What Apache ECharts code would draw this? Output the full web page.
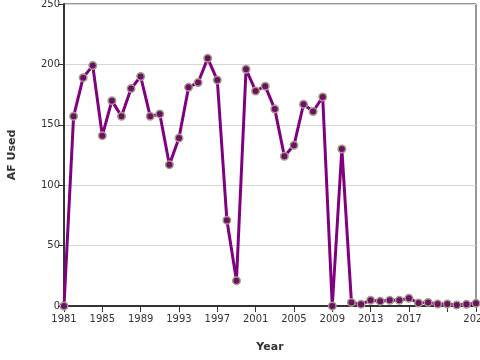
<!DOCTYPE html>
<html>
<head>
<meta charset="utf-8">
<script src="https://cdn.jsdelivr.net/npm/echarts@6/dist/echarts.min.js"></script>
<style>
  html, body { margin: 0; padding: 0; background: #fff; }
  #chart { width: 480px; height: 360px; }
</style>
</head>
<body>
<div id="chart"></div>
<script>
const years = []
for (let y = 1981; y <= 2024; y++) years.push(String(y))

const afUsed = [
  0, 157, 189, 199, 141, 170, 157, 180, 190, 157,
  159, 117, 139, 181, 185, 205, 187, 71, 21, 196,
  178, 182, 163, 124, 133, 167, 161, 173, 0, 130,
  3, 1.5, 4.7, 4, 4.7, 4.7, 6.4, 2.5, 3, 1.7,
  1.7, 0.8, 1.4, 2.2
]

const yTicks = [0, 50, 100, 150, 200, 250]

const chart = echarts.init(document.getElementById('chart'))

const showTick = (idx) => idx % 4 === 0 || idx === years.length - 1
const showLabel = (idx) => (idx % 4 === 0 && idx !== 40) || idx === years.length - 1

chart.setOption({
  animation: false,
  textStyle: { fontFamily: 'DejaVu Sans' },
  grid: {
    left: 64,
    right: 4,
    top: 4,
    bottom: 54,
    containLabel: false,
    outerBoundsMode: 'none',
    show: true,
    borderColor: '#333',
    borderWidth: 1
  },
  xAxis: {
    type: 'category',
    data: years,
    boundaryGap: false,
    name: 'Year',
    nameLocation: 'middle',
    nameGap: 36,
    nameTextStyle: { fontWeight: 'bold', fontSize: 11, color: '#333' },
    axisLine: { lineStyle: { color: '#333', width: 2 } },
    axisTick: { interval: showTick, length: 6, lineStyle: { color: '#333' } },
    axisLabel: { interval: showLabel, color: '#333', fontSize: 10, margin: 8 },
    splitLine: { show: false }
  },
  yAxis: {
    type: 'value',
    min: yTicks[0],
    max: yTicks[yTicks.length - 1],
    interval: 50,
    name: 'AF Used',
    nameLocation: 'middle',
    nameGap: 46,
    nameTextStyle: { fontWeight: 'bold', fontSize: 11, color: '#333' },
    axisLine: { show: true, lineStyle: { color: '#333', width: 2 } },
    axisTick: { show: true, length: 6, lineStyle: { color: '#333' } },
    axisLabel: { color: '#333', fontSize: 10, margin: 4 },
    splitLine: { lineStyle: { color: '#d6d6d6' } }
  },
  series: [{
    type: 'line',
    data: afUsed,
    symbol: 'circle',
    symbolSize: 7.5,
    showAllSymbol: true,
    lineStyle: { color: '#800080', width: 3 },
    itemStyle: { color: '#6b0f6b', borderColor: '#a89c80', borderWidth: 1.5 }
  }]
})
</script>
</body>
</html>
